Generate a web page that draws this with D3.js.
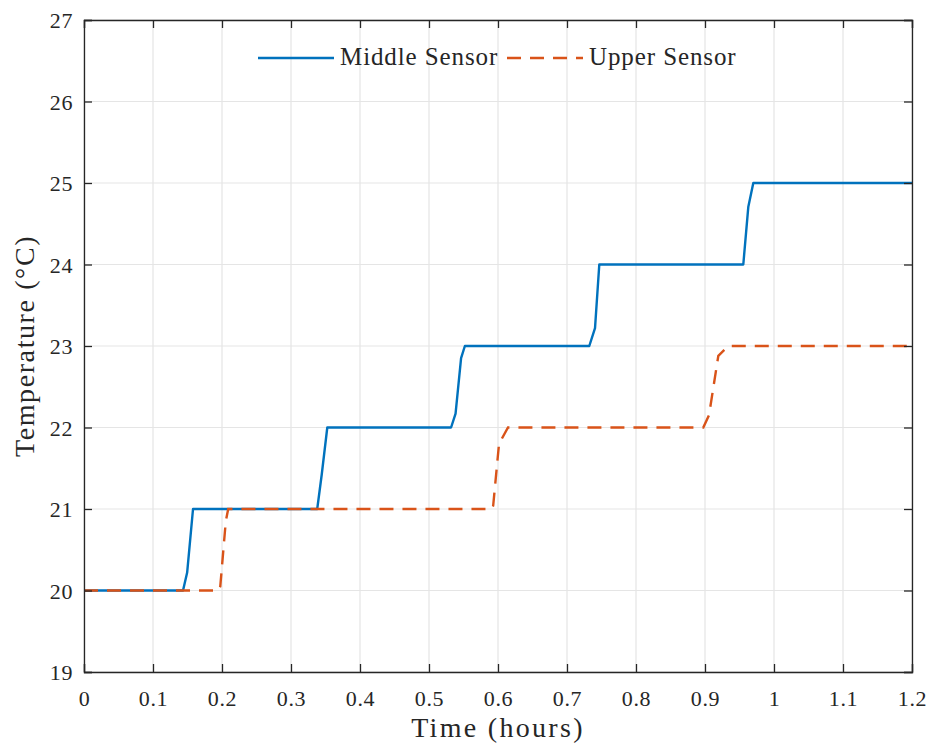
<!DOCTYPE html>
<html>
<head>
<meta charset="utf-8">
<script src="https://cdn.jsdelivr.net/npm/d3@7"></script>
<style>
  body { margin: 0; background: #fff; }
  text { font-family: "Liberation Serif", "DejaVu Serif", serif; fill: #262626; }
</style>
</head>
<body>
<div id="container"></div>
<script>
// data (time in hours, temperature in degC)
let middleTime = [0, 0.1435, 0.1495, 0.158, 0.338, 0.3445, 0.3526, 0.532, 0.5385, 0.5465, 0.552, 0.7323, 0.7406, 0.7468, 0.9555, 0.9628, 0.970, 1.2];
let middleTemp = [20, 20, 20.22, 21, 21, 21.42, 22, 22, 22.17, 22.85, 23, 23, 23.22, 24, 24, 24.71, 25, 25];

let upperTime = [0, 0.1947, 0.1975, 0.2055, 0.209, 0.5907, 0.593, 0.6015, 0.6145, 0.8975, 0.9058, 0.9193, 0.9338, 1.2];
let upperTemp = [20, 20, 20.05, 20.85, 21, 21, 21.04, 21.8, 22, 22, 22.15, 22.88, 23, 23];

let xTicks = [0, 0.1, 0.2, 0.3, 0.4, 0.5, 0.6, 0.7, 0.8, 0.9, 1, 1.1, 1.2];
let yTicks = [19, 20, 21, 22, 23, 24, 25, 26, 27];

let seriesNames = ["Middle Sensor", "Upper Sensor"];

let w = 928;
let h = 745;
let plotLeft = 84, plotRight = 912, plotTop = 20, plotBottom = 672;

let viz = d3.select("#container")
  .append("svg")
    .attr("width", w)
    .attr("height", h);

let x = d3.scaleLinear().domain([0, 1.2]).range([plotLeft, plotRight]);
let y = d3.scaleLinear().domain([19, 27]).range([plotBottom, plotTop]);

// grid
let grid = viz.append("g").attr("class", "grid");
grid.selectAll(".vgrid").data(xTicks).enter()
  .append("line")
    .attr("x1", d => x(d)).attr("x2", d => x(d))
    .attr("y1", plotTop).attr("y2", plotBottom)
    .attr("stroke", "#e5e5e5").attr("stroke-width", 1.2);
grid.selectAll(".hgrid").data(yTicks).enter()
  .append("line")
    .attr("x1", plotLeft).attr("x2", plotRight)
    .attr("y1", d => y(d)).attr("y2", d => y(d))
    .attr("stroke", "#e5e5e5").attr("stroke-width", 1.2);

// lines
let middleData = middleTime.map((t, i) => ({t: t, v: middleTemp[i]}));
let upperData = upperTime.map((t, i) => ({t: t, v: upperTemp[i]}));

let line = d3.line().x(d => x(d.t)).y(d => y(d.v));

viz.append("path")
  .datum(middleData)
  .attr("d", line)
  .attr("fill", "none")
  .attr("stroke", "#0072BD")
  .attr("stroke-width", 2.4)
  .attr("stroke-linejoin", "round");

viz.append("path")
  .datum(upperData)
  .attr("d", line)
  .attr("fill", "none")
  .attr("stroke", "#D95319")
  .attr("stroke-width", 2.4)
  .attr("stroke-dasharray", "14,9");

// axes, ticks inside on all four sides
let axisColor = "#262626";
let tickLen = 8;

let xAxis = viz.append("g")
  .attr("transform", "translate(0," + plotBottom + ")")
  .call(d3.axisBottom(x).tickValues(xTicks).tickSize(-tickLen).tickPadding(18).tickFormat(d3.format("")));
let xAxisTop = viz.append("g")
  .attr("transform", "translate(0," + plotTop + ")")
  .call(d3.axisTop(x).tickValues(xTicks).tickSize(-tickLen).tickFormat(""));
let yAxis = viz.append("g")
  .attr("transform", "translate(" + plotLeft + ",0)")
  .call(d3.axisLeft(y).tickValues(yTicks).tickSize(-tickLen).tickPadding(11));
let yAxisRight = viz.append("g")
  .attr("transform", "translate(" + plotRight + ",0)")
  .call(d3.axisRight(y).tickValues(yTicks).tickSize(-tickLen).tickFormat(""));

[xAxis, xAxisTop, yAxis, yAxisRight].forEach(function(a){
  a.select(".domain").attr("stroke", axisColor).attr("stroke-width", 1.3);
  a.selectAll(".tick line").attr("stroke", axisColor).attr("stroke-width", 1.3);
  a.selectAll(".tick text")
    .attr("fill", axisColor)
    .style("font-size", "22px")
    .style("letter-spacing", "0.6px")
    .style("font-family", "'Liberation Serif', serif");
});
yAxis.selectAll(".tick text").attr("dy", "0.35em");

// axis titles
viz.append("text")
  .text("Time (hours)")
  .attr("x", (plotLeft + plotRight) / 2)
  .attr("y", 737)
  .attr("text-anchor", "middle")
  .style("font-size", "28px")
  .style("letter-spacing", "2.3px");

viz.append("text")
  .text("Temperature (°C)")
  .attr("transform", "translate(34," + ((plotTop + plotBottom) / 2) + ") rotate(-90)")
  .attr("text-anchor", "middle")
  .style("font-size", "28px")
  .style("letter-spacing", "1.6px");

// legend
let legend = viz.append("g").attr("class", "legend");
let legendItems = [
  {name: seriesNames[0], color: "#0072BD", dash: null, x0: 258},
  {name: seriesNames[1], color: "#D95319", dash: "14,9", x0: 507}
];
let legendGroups = legend.selectAll(".item").data(legendItems).enter()
  .append("g")
    .attr("transform", d => "translate(" + d.x0 + ",58)");
legendGroups.append("line")
  .attr("x1", 0).attr("x2", 76)
  .attr("y1", 0).attr("y2", 0)
  .attr("stroke", d => d.color)
  .attr("stroke-width", 2.4)
  .attr("stroke-dasharray", d => d.dash);
legendGroups.append("text")
  .text(d => d.name)
  .attr("x", 82)
  .attr("y", 7)
  .style("font-size", "25px")
  .style("letter-spacing", "0.9px");
</script>
</body>
</html>
